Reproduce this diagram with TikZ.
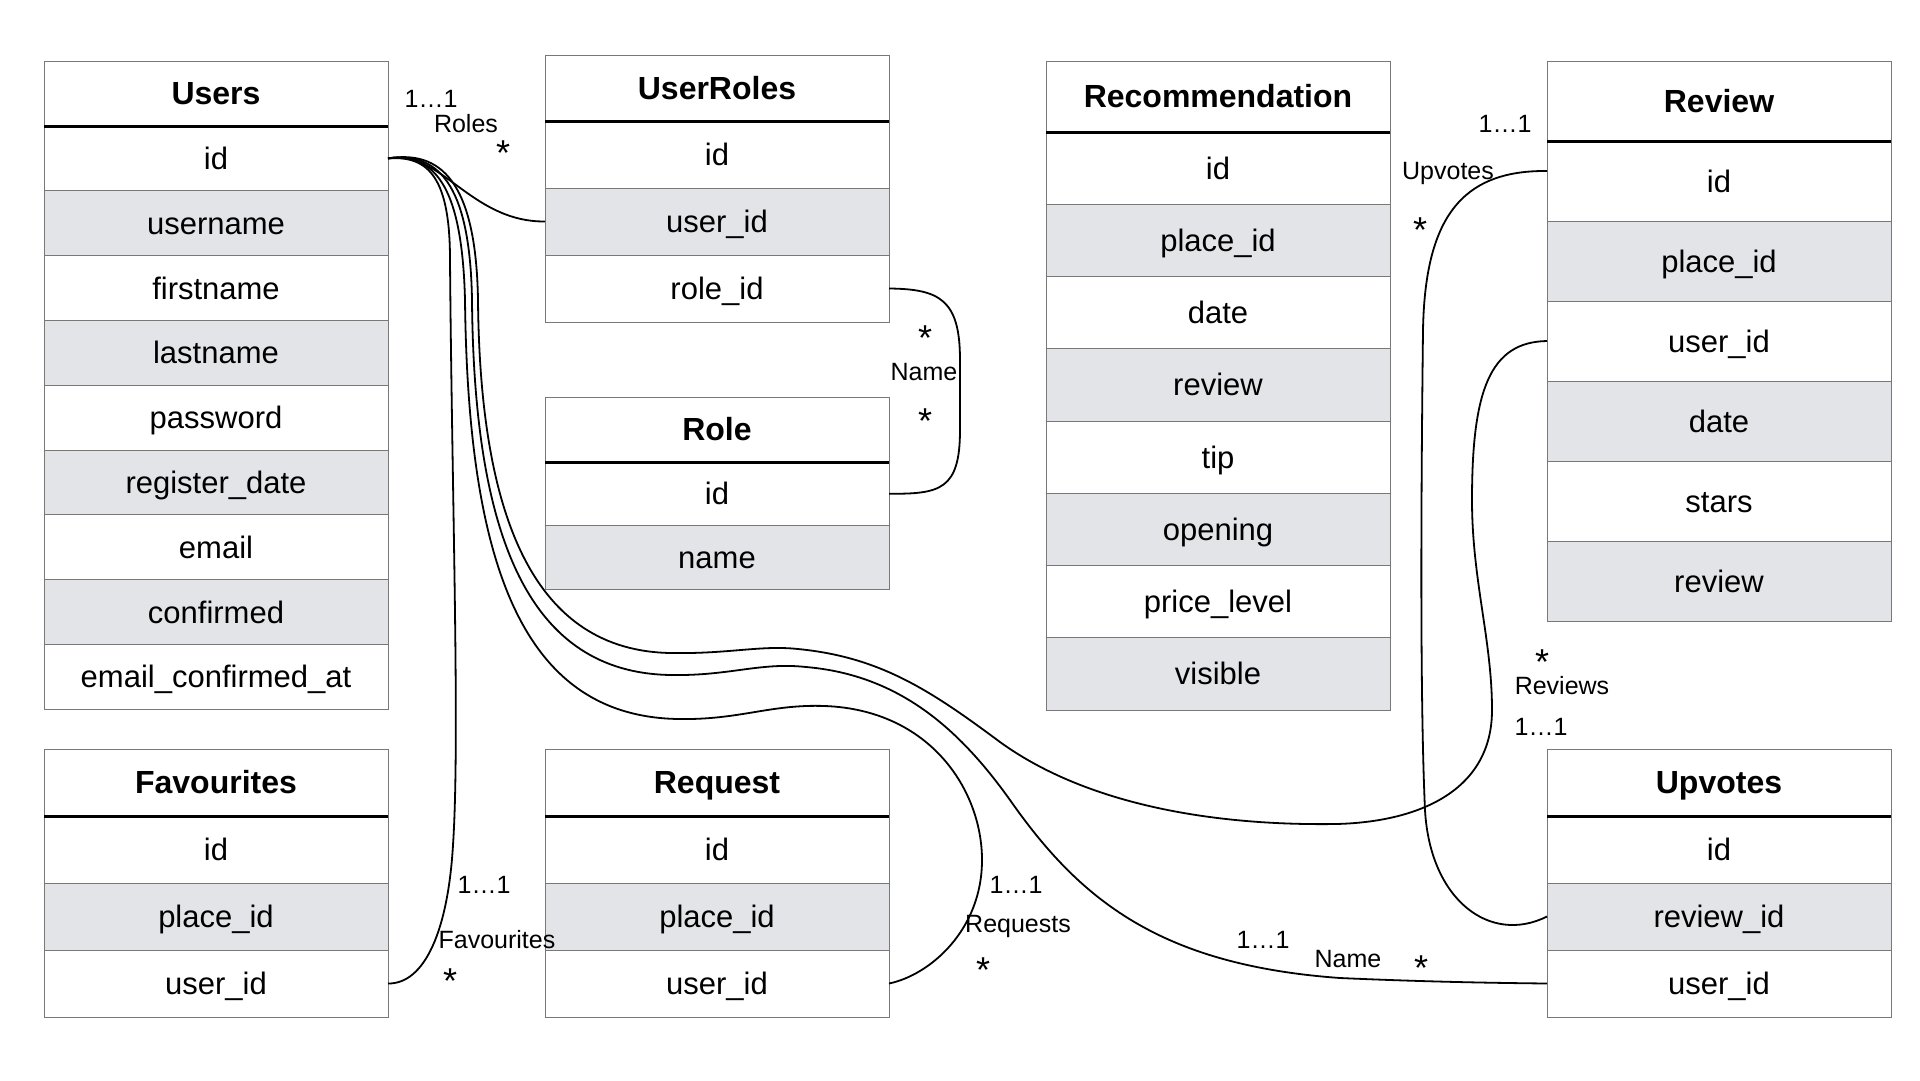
\documentclass[tikz,border=0pt]{standalone}
\usepackage{fontspec}
\setmainfont{Liberation Sans}
\usetikzlibrary{positioning}
\definecolor{rowgray}{RGB}{227,228,232}
\definecolor{gridgray}{RGB}{120,120,120}

% #1 name, #2 top left, #3 title, #4 header height, #5 row height, #6 fields
\newcommand{\dbtable}[6]{%
  \node[hdr=#4, anchor=north west] (#10) at #2 {#3};
  \foreach \fname [count=\i, remember=\i as \j (initially 0)] in {#6} {
    \ifodd\i\relax\def\rowfill{white}\else\def\rowfill{rowgray}\fi
    \node[fld=#5, fill=\rowfill, below=0pt of #1\j] (#1\i) {\fname};
  }
  \draw[hdline] (#10.south west) -- (#10.south east);
}

\begin{document}
\begin{tikzpicture}[
  x=1pt, y=-1pt,
  fld/.style={draw=gridgray, line width=1pt, minimum width=344pt, minimum height=#1,
    inner sep=0pt, outer sep=0pt, text height=22.2pt, text depth=0pt,
    font=\fontsize{31}{36}\selectfont},
  hdr/.style={fld=#1, text height=22.9pt, font=\fontsize{32}{38}\selectfont\bfseries},
  hdline/.style={line width=3pt},
  rel/.style={line width=1.8pt},
  lbl/.style={inner sep=0pt, anchor=base, font=\fontsize{25}{30}\selectfont},
  star/.style={inner sep=0pt, anchor=base, font=\fontsize{36}{36}\selectfont}
]
\fill[white] (0,0) rectangle (1920,1080);
\useasboundingbox (0,0) rectangle (1920,1080);

% tables
\dbtable{u}{(44,61)}{Users}{65pt}{64.8pt}{id,username,firstname,lastname,password,register\_date,email,confirmed,email\_confirmed\_at}
\dbtable{ur}{(545,55)}{UserRoles}{66pt}{67pt}{id,user\_id,role\_id}
\dbtable{ro}{(545,397)}{Role}{65pt}{63.5pt}{id,name}
\dbtable{rc}{(1046,61)}{Recommendation}{71pt}{72.25pt}{id,place\_id,date,review,tip,opening,price\_level,visible}
\dbtable{rv}{(1547,61)}{Review}{80pt}{80pt}{id,place\_id,user\_id,date,stars,review}
\dbtable{fa}{(44,749)}{Favourites}{67pt}{67pt}{id,place\_id,user\_id}
\dbtable{rq}{(545,749)}{Request}{67pt}{67pt}{id,place\_id,user\_id}
\dbtable{up}{(1547,749)}{Upvotes}{67pt}{67pt}{id,review\_id,user\_id}

% relations
\draw[rel] (u1.east) .. controls (440,148) and (470,222) .. (ur2.west);
\draw[rel] (u1.east) .. controls (430,155) and (450,180) .. (450,260)
  .. controls (452,500) and (460,740) .. (453,845)
  .. controls (448,930) and (425,984) .. (fa3.east);
\draw[rel] (u1.east) .. controls (432,154) and (462,180) .. (465,300)
  .. controls (468,560) and (520,717) .. (679,719)
  .. controls (740,720) and (770,704) .. (825,706)
  .. controls (930,710) and (982,790) .. (982,860)
  .. controls (982,930) and (930,975) .. (rq3.east);
\draw[rel] (u1.east) .. controls (436,152) and (470,180) .. (472,300)
  .. controls (474,540) and (530,673) .. (671,675)
  .. controls (730,676) and (760,662) .. (806,667)
  .. controls (900,675) and (960,730) .. (1010,800)
  .. controls (1080,900) and (1160,965) .. (1340,978)
  .. controls (1430,982) and (1500,983) .. (up3.west);
\draw[rel] (u1.east) .. controls (440,150) and (476,180) .. (478,300)
  .. controls (480,520) and (535,651) .. (671,653)
  .. controls (730,654) and (760,645) .. (798,649)
  .. controls (880,657) and (930,690) .. (1000,742)
  .. controls (1080,800) and (1200,826) .. (1336,824)
  .. controls (1420,822) and (1492,790) .. (1492,710)
  .. controls (1492,640) and (1472,580) .. (1472,500)
  .. controls (1472,390) and (1490,342) .. (rv3.west);
\draw[rel] (ur3.east) .. controls (940,289) and (960,300) .. (960,360) -- (960,430)
  .. controls (960,490) and (940,494) .. (ro1.east);
\draw[rel] ([yshift=10pt]rv1.west) .. controls (1460,170) and (1425,220) .. (1423,330)
  .. controls (1421,500) and (1420,700) .. (1425,810)
  .. controls (1430,900) and (1490,945) .. (up2.west);

% labels
\node[lbl] (rolOne) at (431,107) {1…1};
\node[lbl] (rolName) at (466,132) {Roles};
\node[star] (rolMany) at (503,165) {*};
\node[star] (nmManyA) at (925,350) {*};
\node[lbl] (nmName) at (924,380) {Name};
\node[star] (nmManyB) at (925,433) {*};
\node[lbl] (favOne) at (484,893) {1…1};
\node[lbl] (favName) at (497,948) {Favourites};
\node[star] (favMany) at (450,993) {*};
\node[lbl] (reqOne) at (1016,893) {1…1};
\node[lbl] (reqName) at (1018,932) {Requests};
\node[star] (reqMany) at (983,982) {*};
\node[lbl] (uvOne) at (1263,948) {1…1};
\node[lbl] (uvName) at (1348,967) {Name};
\node[star] (uvMany) at (1421,980) {*};
\node[lbl] (upvOne) at (1505,132) {1…1};
\node[lbl] (upvName) at (1448,179) {Upvotes};
\node[star] (upvMany) at (1420,242) {*};
\node[star] (revMany) at (1542,674) {*};
\node[lbl] (revName) at (1562,694) {Reviews};
\node[lbl] (revOne) at (1541,735) {1…1};
\end{tikzpicture}
\end{document}
